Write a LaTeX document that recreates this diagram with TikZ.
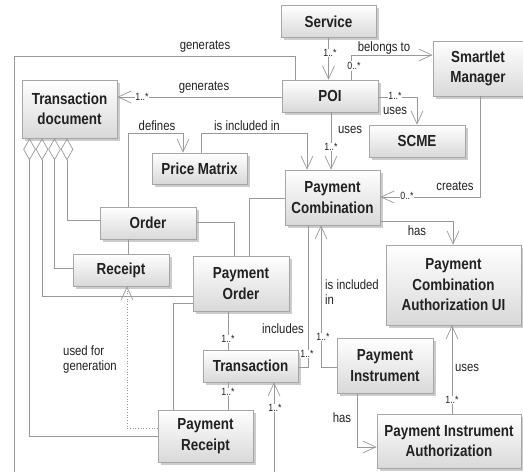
\documentclass[tikz,border=0pt]{standalone}
\usepackage{fontspec}
\setmainfont{Liberation Sans}[FakeStretch=0.84]
\usetikzlibrary{arrows.meta,shadows}
\newlength{\lw}
\setlength{\lw}{0.7pt}
\definecolor{linegray}{gray}{0.6}
\definecolor{textgray}{gray}{0.13}
\tikzstyle{every picture}+=[x=1pt,y=-1pt]
\tikzstyle{every picture}+=[line width=\lw]
\tikzstyle{every picture}+=[>={Straight Barb[length=13pt,width=12pt]}]
\tikzstyle{every picture}+=[every shadow/.style={opacity=.4}]
\tikzstyle{cls}=[draw=black!35,top color=white,bottom color=black!15,
  drop shadow={shadow xshift=2.5pt,shadow yshift=-2.5pt},
  font=\fontsize{16}{20.5}\selectfont\bfseries,text=textgray,align=center,
  inner sep=0pt,minimum width=95pt,minimum height=32pt]
\tikzstyle{link}=[draw=linegray]
\tikzstyle{nav}=[link,->]
\tikzstyle{agg}=[link,{Diamond[open,length=22pt,width=12.5pt]}-]
\tikzstyle{dep}=[link,->,dotted]
\tikzstyle{lbl}=[font=\fontsize{13.5}{15}\selectfont,text=textgray,inner sep=0pt,align=left]
\tikzstyle{mult}=[font=\fontsize{10.5}{11}\selectfont,text=textgray,fill=white,inner sep=0.8pt]

\begin{document}
\begin{tikzpicture}
\useasboundingbox (0,0) rectangle (523,472);

\node[cls] (svc) at (328.5,21.5) {Service};
\node[cls,minimum width=96pt] (poi) at (330,96) {POI};
\node[cls,minimum width=90pt,minimum height=55pt] (sm) at (478,68.5) {Smartlet\\Manager};
\node[cls,minimum width=96pt] (scme) at (417,141) {SCME};
\node[cls,minimum height=58pt] (td) at (69.5,109) {Transaction\\document};
\node[cls,minimum height=31pt] (pm) at (199.5,168.5) {Price Matrix};
\node[cls,minimum height=55pt] (pc) at (332.5,197.5) {Payment\\Combination};
\node[cls,minimum width=135pt,minimum height=80pt] (pcau) at (453.5,285) {Payment\\Combination\\Authorization UI};
\node[cls,minimum width=96pt] (order) at (148,223) {Order};
\node[cls,minimum width=96pt] (rcpt) at (121,270) {Receipt};
\node[cls,minimum width=96pt,minimum height=55pt] (po) at (241,283.5) {Payment\\Order};
\node[cls] (tx) at (250.5,366) {Transaction};
\node[cls,minimum height=52pt] (pr) at (205.5,436) {Payment\\Receipt};
\node[cls,minimum width=96pt,minimum height=55pt] (pi) at (385,365.5) {Payment\\Instrument};
\node[cls,minimum width=144pt,minimum height=54pt] (pia) at (449,441) {Payment Instrument\\Authorization};

\coordinate (gen end) at (14,472);
\coordinate (tx in) at (274,472);

\draw[nav] (svc.south) -- (svc.south |- poi.north);
\draw[nav] (poi.north -| 351,0) |- (sm.west |- 0,55);
\draw[nav] (poi.east |- 0,97) -| (scme.north);
\draw[nav] (poi.south -| 331,0) -- (pc.north -| 331,0);
\draw[nav] (poi.west |- 0,97) -- (td.east |- 0,97);
\draw[link] (poi.north -| 295,0) |- (gen end |- 0,56) -- (gen end);

\draw[agg] (td.south -| 67,0) |- (order.west |- 0,220);
\draw[agg] (td.south -| 54.5,0) |- (rcpt.west |- 0,268);
\draw[agg] (td.south -| 42,0) |- (po.west |- 0,296);
\draw[agg] (td.south -| 29.5,0) |- (pr.west |- 0,436);

\draw[nav] (order.north -| 128,0) |- (183,133) -- (pm.north -| 183,0);
\draw[nav] (pm.north -| 201,0) |- (307,133) -- (pc.north -| 307,0);
\draw[link] (order.south -| 128,0) -- (rcpt.north -| 128,0);
\draw[link] (order.east |- 0,222) -| (po.north -| 234,0);
\draw[link] (po.north -| 249,0) |- (pc.west |- 0,198);
\draw[nav] (pc.east |- 0,221) -| (pcau.north -| 453,0);
\draw[nav] (sm.south -| 480,0) |- (pc.east |- 0,197);

\draw[nav] (pi.west |- 0,367) -| (pc.south -| 321,0);
\draw[link] (tx.east |- 0,367) -| (pc.south -| 308,0);
\draw[link] (po.south -| 228,0) -- (tx.north -| 228,0);
\draw[link] (tx.south -| 228,0) -- (pr.north -| 228,0);
\draw[link] (po.west |- 0,303) -| (pr.north -| 173,0);
\draw[nav] (tx in) -- (tx.south -| tx in);
\draw[dep] (pr.west |- 0,428) -| (rcpt.south -| 127,0);
\draw[nav] (pi.south -| 357,0) |- (pia.west |- 0,447);
\draw[nav] (pia.north -| 452,0) -- (pcau.south -| 452,0);

\node[lbl] (l gen1) at (205,47) {generates};
\node[lbl] (l gen2) at (204,88) {generates};
\node[lbl] (l bel) at (384,48) {belongs to};
\node[lbl] (l uses1) at (395,111) {uses};
\node[lbl] (l uses2) at (350,130) {uses};
\node[lbl] (l def) at (157,126) {defines};
\node[lbl] (l inc1) at (247,126) {is included in};
\node[lbl] (l creates) at (455,186) {creates};
\node[lbl] (l has1) at (417,231) {has};
\node[lbl] (l inc2) at (352,292) {is included\\in};
\node[lbl] (l incl) at (283,329) {includes};
\node[lbl] (l usedfor) at (90,360) {used for\\generation};
\node[lbl] (l has2) at (342,418) {has};
\node[lbl] (l uses3) at (467,368) {uses};

\node[mult] (m1) at (330,53) {1..*};
\node[mult] (m2) at (354,66) {0..*};
\node[mult] (m3) at (395,96) {1..*};
\node[mult] (m4) at (331,147) {1..*};
\node[mult] (m5) at (142,97) {1..*};
\node[mult] (m6) at (407,196) {0..*};
\node[mult] (m7) at (323,337) {1..*};
\node[mult] (m8) at (307,354) {1..*};
\node[mult] (m9) at (228,339) {1..*};
\node[mult] (m10) at (228,392) {1..*};
\node[mult] (m11) at (275,408) {1..*};
\node[mult] (m12) at (452,400) {1..*};
\end{tikzpicture}
\end{document}
